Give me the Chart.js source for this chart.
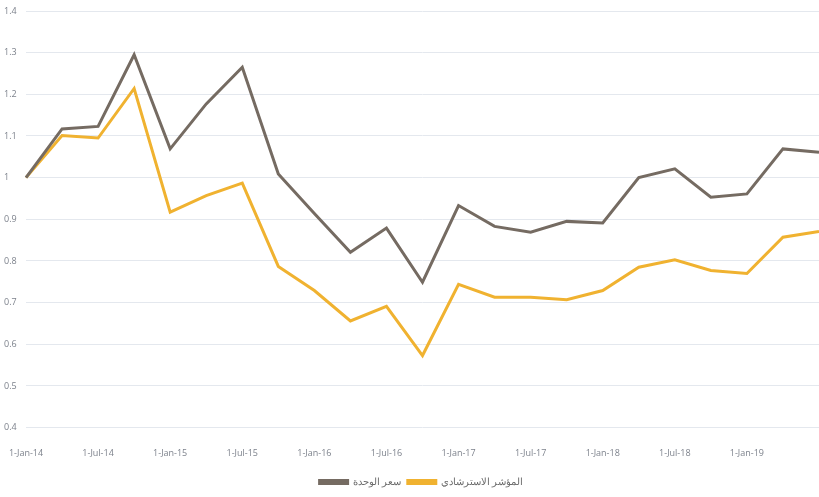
<!DOCTYPE html>
<html>
<head>
<meta charset="utf-8">
<script src="https://cdn.jsdelivr.net/npm/chart.js@4"></script>
<style>
  body { margin: 0; background: #fff; }
  #wrap { width: 819px; height: 497px; position: relative; }
</style>
</head>
<body>
<div id="wrap"><canvas id="navChart"></canvas></div>
<script>
// quarterly dates, only every other one is labelled on the axis
const labels = [
  "1-Jan-14", "1-Apr-14", "1-Jul-14", "1-Oct-14",
  "1-Jan-15", "1-Apr-15", "1-Jul-15", "1-Oct-15",
  "1-Jan-16", "1-Apr-16", "1-Jul-16", "1-Oct-16",
  "1-Jan-17", "1-Apr-17", "1-Jul-17", "1-Oct-17",
  "1-Jan-18", "1-Apr-18", "1-Jul-18", "1-Oct-18",
  "1-Jan-19", "1-Apr-19", "1-Jul-19"
];

const unitPrice = [
  1.0, 1.117, 1.123, 1.295, 1.069, 1.177, 1.265, 1.009,
  0.914, 0.821, 0.879, 0.749, 0.933, 0.883, 0.869, 0.895,
  0.891, 1.0, 1.021, 0.953, 0.961, 1.069, 1.061
];

const benchmark = [
  1.0, 1.101, 1.095, 1.214, 0.917, 0.957, 0.987, 0.787,
  0.729, 0.656, 0.691, 0.573, 0.744, 0.713, 0.713, 0.707,
  0.729, 0.785, 0.803, 0.777, 0.77, 0.857, 0.871
];

// nudge the legend a little to the right, like the original
const legendShift = {
  id: "legendShift",
  afterLayout(chart) {
    chart.legend.left += 10;
    chart.legend.right += 10;
  },
};

const ctx = document.getElementById("navChart").getContext("2d");

new Chart(ctx, {
  type: "line",
  data: {
    labels: labels,
    datasets: [
      {
        label: "سعر الوحدة",
        data: unitPrice,
        borderColor: "#756b62",
        backgroundColor: "#756b62",
        borderWidth: 3,
        pointRadius: 0,
        tension: 0,
      },
      {
        label: "المؤشر الاسترشادي",
        data: benchmark,
        borderColor: "#f0b230",
        backgroundColor: "#f0b230",
        borderWidth: 3,
        pointRadius: 0,
        tension: 0,
      },
    ],
  },
  plugins: [legendShift],
  options: {
    responsive: true,
    maintainAspectRatio: false,
    animation: false,
    layout: { padding: { top: 11, left: 4, right: 0, bottom: 0 } },
    plugins: {
      legend: {
        position: "bottom",
        labels: {
          boxWidth: 28,
          boxHeight: 3,
          padding: 6.6,
          color: "#6b6b6b",
          font: { family: "Open Sans", size: 10 },
        },
      },
      tooltip: { enabled: false },
    },
    scales: {
      x: {
        grid: { display: false },
        border: { display: false },
        afterFit: function (scale) {
          scale.paddingLeft = 0;
          scale.paddingRight = 0;
        },
        ticks: {
          autoSkip: false,
          maxRotation: 0,
          padding: 12,
          color: "#7d828c",
          font: { family: "Open Sans", size: 9 },
          callback: function (value, index) {
            return index % 2 === 0 && index < 22 ? labels[index] : "";
          },
        },
      },
      y: {
        min: 0.4,
        max: 1.4,
        border: { display: false },
        grid: { color: "#e4e8ee", drawTicks: false, lineWidth: 1 },
        afterFit: function (scale) {
          scale.width = 22;
        },
        ticks: {
          stepSize: 0.1,
          crossAlign: "far",
          padding: 0,
          color: "#7d828c",
          font: { family: "Open Sans", size: 9 },
          callback: function (value) {
            return String(Number(value.toFixed(1)));
          },
        },
      },
    },
  },
});
</script>
</body>
</html>
